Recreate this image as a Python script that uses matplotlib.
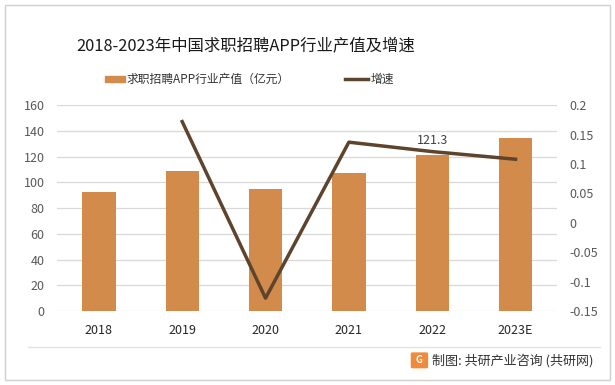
import matplotlib.pyplot as plt
from matplotlib.patches import Rectangle, FancyBboxPatch
from matplotlib.ticker import FuncFormatter

plt.rcParams['font.family'] = ['Noto Sans CJK SC', 'DejaVu Sans']

years = ['2018', '2019', '2020', '2021', '2022', '2023E']
output_value = [92.5, 108.5, 94.8, 107.6, 121.3, 134.1]
growth_years = ['2019', '2020', '2021', '2022', '2023E']
growth = [0.172, -0.128, 0.137, 0.121, 0.108]

bar_color = '#D38B4C'
line_color = '#5E432D'

fig = plt.figure(figsize=(6.15, 3.85), dpi=100)
ax = fig.add_axes([0.093, 0.192, 0.813, 0.535])
ax2 = ax.twinx()

x = list(range(len(years)))
ax.bar(x, output_value, width=0.4, color=bar_color, zorder=2)
gx = [years.index(y) for y in growth_years]
ax2.plot(gx, growth, color=line_color, linewidth=2.5, zorder=3)

# data label on 2022 bar
i = years.index('2022')
ax.annotate(f'{output_value[i]:.1f}', (i, output_value[i]), xytext=(0, 6),
            textcoords='offset points', ha='center', va='bottom',
            fontsize=9, color='#404040')

ax.set_xlim(-0.5, len(years) - 0.5)
ax.set_ylim(0, 160)
ax.set_yticks(range(0, 161, 20))
ax2.set_ylim(-0.15, 0.2)
ax2.set_yticks([-0.15, -0.1, -0.05, 0, 0.05, 0.1, 0.15, 0.2])
ax2.yaxis.set_major_formatter(FuncFormatter(lambda v, p: f'{v:g}' if abs(v) > 1e-9 else '0'))

ax.set_xticks(x)
ax.set_xticklabels(years)
ax.grid(axis='y', color='#D9D9D9', linewidth=0.9, zorder=0)
ax.set_axisbelow(True)
for a in (ax, ax2):
    for s in a.spines.values():
        s.set_visible(False)
    a.tick_params(length=0, labelsize=9, colors='#595959')
ax.tick_params(axis='x', colors='#262626', pad=9)
ax.tick_params(axis='y', pad=9)
ax2.tick_params(axis='y', pad=9)

fig.text(0.400, 0.878, '2018-2023年中国求职招聘APP行业产值及增速', ha='center', va='center',
         fontsize=11.8, color='#1a1a1a')

# legend
fig.patches.append(Rectangle((0.170, 0.788), 0.033, 0.014, transform=fig.transFigure,
                             color=bar_color))
fig.text(0.206, 0.795, '求职招聘APP行业产值（亿元）', ha='left', va='center', fontsize=8.5, color='#333333')
fig.lines.append(plt.Line2D([0.561, 0.599], [0.795, 0.795], transform=fig.transFigure,
                            color=line_color, linewidth=2.5))
fig.text(0.603, 0.795, '增速', ha='left', va='center', fontsize=8.5, color='#333333')

# footer
fig.lines.append(plt.Line2D([0.045, 0.975], [0.099, 0.099], transform=fig.transFigure,
                            color='#E3E3E3', linewidth=1))
fig.patches.append(FancyBboxPatch((0.671, 0.047), 0.022, 0.034, boxstyle='round,pad=0.002',
                                  transform=fig.transFigure, color='#F08A3C'))
fig.text(0.682, 0.064, 'G', ha='center', va='center', fontsize=7, color='white', weight='bold')
fig.text(0.703, 0.062, '制图: 共研产业咨询 (共研网)', ha='left', va='center', fontsize=9.4, color='#333333')

# border
fig.patches.append(Rectangle((0.008, 0.012), 0.984, 0.975, transform=fig.transFigure,
                             fill=False, edgecolor='#D0D0D0', linewidth=1))

fig.savefig('out.png', dpi=100)
